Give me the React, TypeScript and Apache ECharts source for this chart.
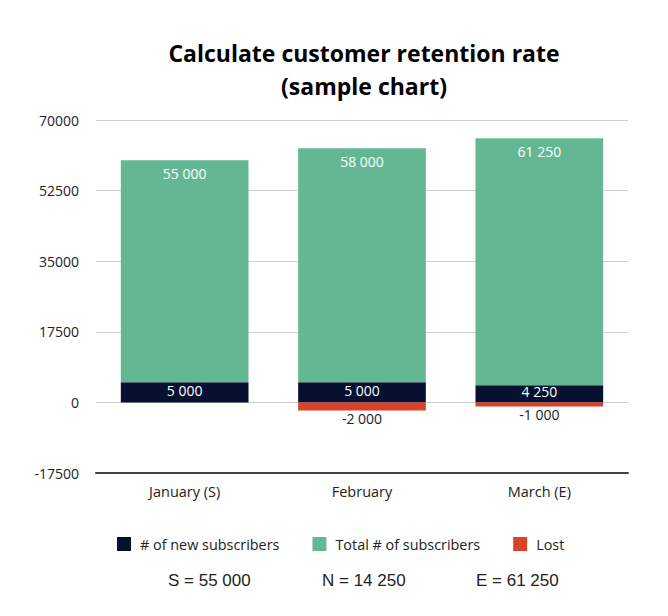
import React, { useEffect, useRef } from "react";
import * as echarts from "echarts";

const categories = ["January (S)", "February", "March (E)"];
const newSubscribers = [5000, 5000, 4250];
const totalSubscribers = [55000, 58000, 61250];
const lost = [null, -2000, -1000];
const yTicks = { min: -17500, max: 70000, interval: 17500 };
const summary = ["S = 55 000", "N = 14 250", "E = 61 250"];

const fmt = (v: number) => {
  const s = Math.abs(v).toString().replace(/\B(?=(\d{3})+(?!\d))/g, " ");
  return (v < 0 ? "-" : "") + s;
};

const FONT = "'Open Sans', sans-serif";

export default function App() {
  const ref = useRef<HTMLDivElement>(null);
  useEffect(() => {
    document.body.style.margin = "0";
    const chart = echarts.init(ref.current!, null, { renderer: "svg" });
    chart.setOption({
      animation: false,
      textStyle: { fontFamily: FONT },
      title: {
        text: "Calculate customer retention rate\n(sample chart)",
        left: 359,
        textAlign: "center",
        top: 31,
        textStyle: {
          fontFamily: FONT,
          fontSize: 23,
          fontWeight: "bold",
          color: "#000",
          lineHeight: 33,
        },
      },
      legend: {
        left: 117,
        top: 537,
        padding: 0,
        itemWidth: 14,
        itemHeight: 14,
        itemGap: 33,
        icon: "rect",
        textStyle: { fontFamily: FONT, fontSize: 14.4, color: "#222", padding: [0, 0, 0, 4] },
        data: ["# of new subscribers", "Total # of subscribers", "Lost"],
      },
      grid: { left: 96, right: 40, top: 120, bottom: 143, containLabel: false },
      xAxis: {
        type: "category",
        data: categories,
        axisTick: { show: false },
        axisLine: { onZero: false, lineStyle: { color: "#444", width: 2 } },
        axisLabel: { fontFamily: FONT, fontSize: 14.5, color: "#222", margin: 11 },
      },
      yAxis: {
        type: "value",
        min: yTicks.min,
        max: yTicks.max,
        interval: yTicks.interval,
        axisLine: { show: false },
        axisTick: { show: false },
        splitLine: { lineStyle: { color: "#d0d0d0", width: 1 } },
        axisLabel: {
          fontFamily: FONT,
          fontSize: 14,
          color: "#222",
          margin: 17,
          formatter: (v: number) => String(v),
        },
      },
      series: [
        {
          name: "# of new subscribers",
          type: "bar",
          stack: "s",
          barWidth: "72%",
          data: newSubscribers,
          itemStyle: { color: "#061030" },
          label: {
            show: true,
            position: "inside",
            offset: [0, -2],
            color: "#fff",
            fontFamily: FONT,
            fontSize: 14,
            formatter: (p: any) => fmt(p.value),
          },
        },
        {
          name: "Total # of subscribers",
          type: "bar",
          stack: "s",
          data: totalSubscribers,
          itemStyle: { color: "#63b893" },
          label: {
            show: true,
            position: "insideTop",
            distance: 6,
            color: "#fff",
            fontFamily: FONT,
            fontSize: 14,
            formatter: (p: any) => fmt(p.value),
          },
        },
        {
          name: "Lost",
          type: "bar",
          stack: "s",
          data: lost,
          itemStyle: { color: "#da432a" },
          label: {
            show: true,
            position: "outside",
            distance: 2,
            lineHeight: 12,
            color: "#222",
            fontFamily: FONT,
            fontSize: 14,
            formatter: (p: any) => (p.value == null ? "" : fmt(p.value)),
          },
        },
      ],
      graphic: summary.map((t, i) => ({
        type: "text",
        left: [168, 322, 476][i],
        top: 572,
        style: {
          text: t,
          fontFamily: "'Liberation Sans', Arial, sans-serif",
          fontSize: 17,
          fill: "#222",
        },
      })),
    });
    return () => chart.dispose();
  }, []);
  return <div ref={ref} style={{ width: 668, height: 616 }} />;
}
